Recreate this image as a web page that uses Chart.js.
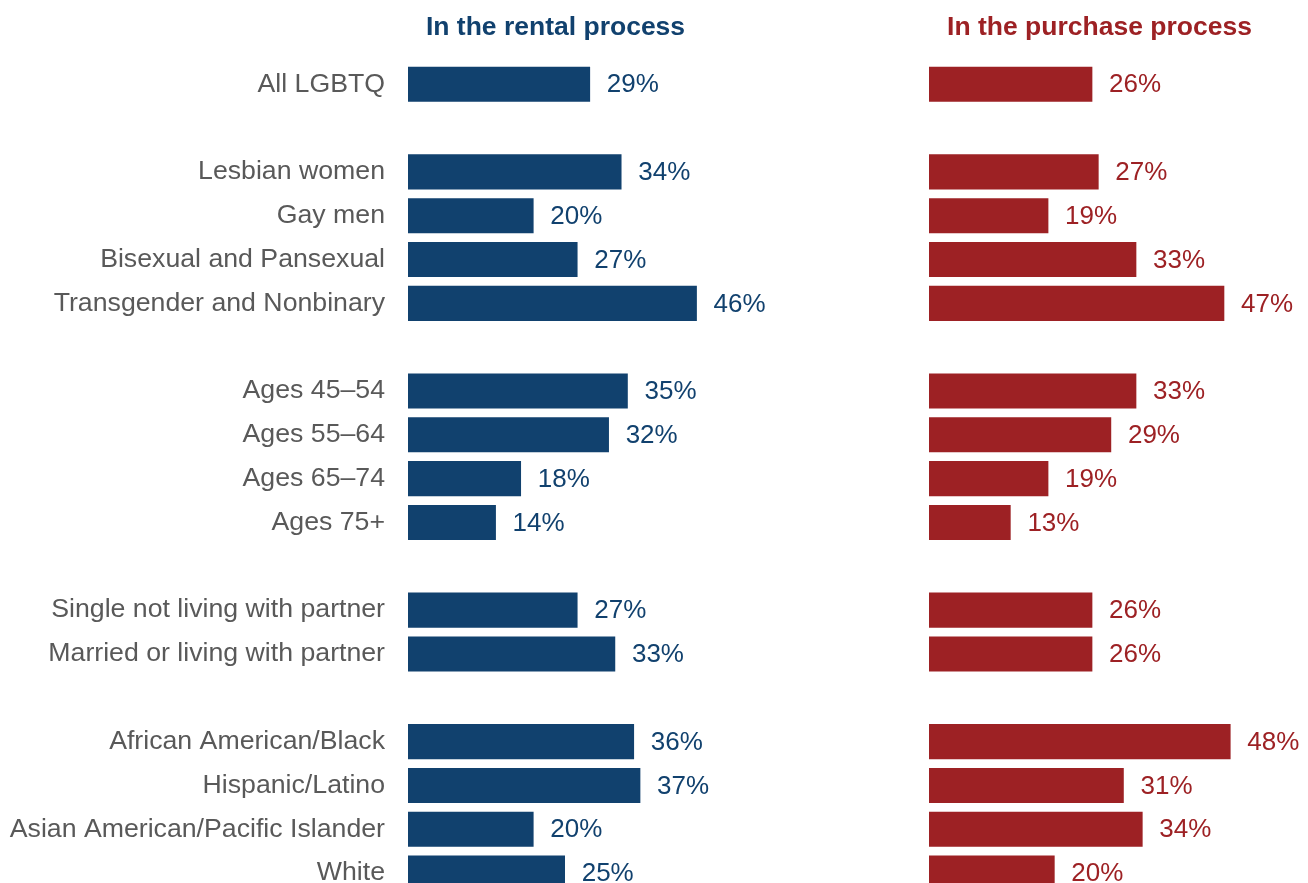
<!DOCTYPE html>
<html>
<head>
<meta charset="utf-8">
<script src="https://cdn.jsdelivr.net/npm/chart.js@4"></script>
<style>
  html, body { margin: 0; padding: 0; background: #ffffff; overflow: hidden; }
  #wrap { position: relative; width: 1308px; height: 883px; overflow: hidden; background: #fff; }
  canvas { position: absolute; top: 0; }
</style>
</head>
<body>
<div id="wrap">
  <canvas id="left" width="879" height="895" style="left:0px;width:879px;height:895px;"></canvas>
  <canvas id="right" width="377" height="895" style="left:929px;width:377px;height:895px;"></canvas>
</div>
<script>
const categories = [
  "All LGBTQ", "",
  "Lesbian women", "Gay men", "Bisexual and Pansexual", "Transgender and Nonbinary", "",
  "Ages 45\u201354", "Ages 55\u201364", "Ages 65\u201374", "Ages 75+", "",
  "Single not living with partner", "Married or living with partner", "",
  "African American/Black", "Hispanic/Latino", "Asian American/Pacific Islander", "White"
];
const rentalValues = [29, null, 34, 20, 27, 46, null, 35, 32, 18, 14, null, 27, 33, null, 36, 37, 20, 25];
const purchaseValues = [26, null, 27, 19, 33, 47, null, 33, 29, 19, 13, null, 26, 26, null, 48, 31, 34, 20];
const rentalTitle = "In the rental process";
const purchaseTitle = "In the purchase process";

const BLUE = "#11416E";
const RED = "#9D2124";
const GRAY = "#595959";
const FONT = "'Liberation Sans', Arial, sans-serif";

function valueLabels(color) {
  return {
    id: 'valueLabels',
    afterDatasetsDraw(chart) {
      const ctx = chart.ctx;
      const meta = chart.getDatasetMeta(0);
      ctx.save();
      ctx.font = "26px " + FONT;
      ctx.fillStyle = color;
      ctx.textAlign = "left";
      ctx.textBaseline = "middle";
      meta.data.forEach((bar, i) => {
        const v = chart.data.datasets[0].data[i];
        if (v === null || v === undefined) return;
        ctx.fillText(v + "%", bar.x + 16.7, bar.y + 1);
      });
      ctx.restore();
    }
  };
}

function titlePlugin(text, color, cx) {
  return {
    id: 'customTitle',
    afterDraw(chart) {
      const ctx = chart.ctx;
      ctx.save();
      ctx.font = "bold 26.5px " + FONT;
      ctx.fillStyle = color;
      ctx.textAlign = "center";
      ctx.textBaseline = "alphabetic";
      ctx.fillText(text, cx, 35);
      ctx.restore();
    }
  };
}

function makeChart(id, values, color, showLabels, xMax, title, titleX) {
  return new Chart(document.getElementById(id), {
    type: 'bar',
    data: {
      labels: categories,
      datasets: [{
        data: values,
        backgroundColor: color,
        borderWidth: 0,
        barPercentage: 0.8,
        categoryPercentage: 1.0
      }]
    },
    options: {
      indexAxis: 'y',
      responsive: false,
      animation: false,
      devicePixelRatio: 1,
      layout: { padding: { top: 62.3, left: 0, right: 0, bottom: 0 } },
      plugins: { legend: { display: false }, tooltip: { enabled: false }, title: { display: false } },
      scales: {
        x: { display: false, min: 0, max: xMax },
        y: {
          display: showLabels,
          grid: { display: false, drawTicks: false },
          border: { display: false },
          ticks: {
            autoSkip: false,
            padding: 23,
            color: GRAY,
            font: { family: FONT, size: 26.7 }
          },
          afterFit(scale) {
            if (showLabels) scale.width = 408;
            scale.paddingTop = 0;
            scale.paddingBottom = 0;
          }
        }
      }
    },
    plugins: [valueLabels(color), titlePlugin(title, color, titleX)]
  });
}

makeChart('left', rentalValues, BLUE, true, 75, rentalTitle, 555.5);
makeChart('right', purchaseValues, RED, false, 60, purchaseTitle, 1099.5 - 929);
</script>
</body>
</html>
